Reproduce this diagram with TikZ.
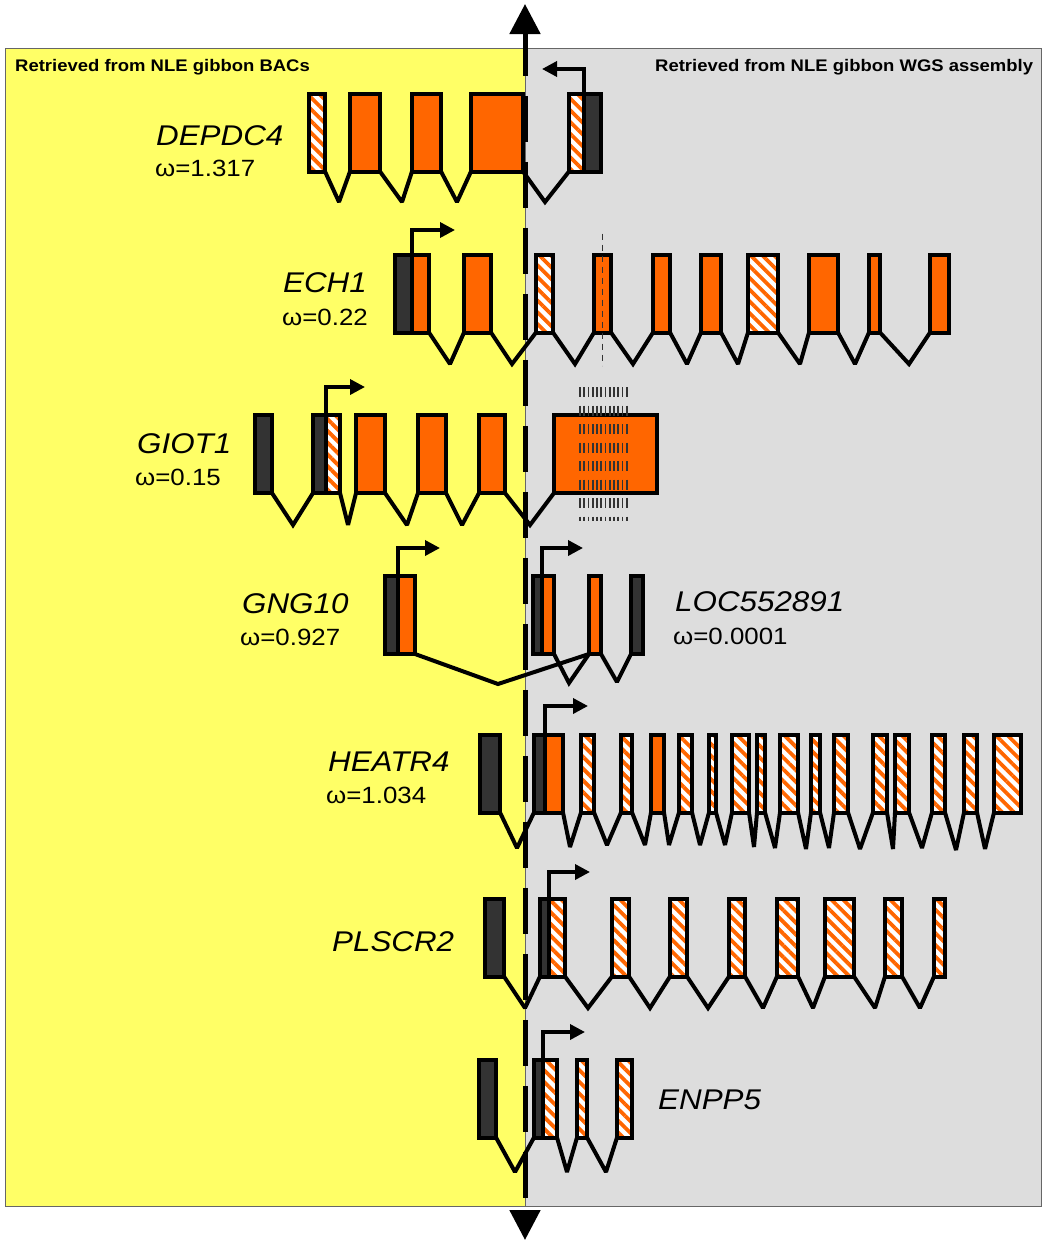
\documentclass[tikz,border=0pt]{standalone}
\usepackage{fontspec}
\setmainfont{Liberation Sans}[FakeStretch=1.1]
\usetikzlibrary{arrows.meta,patterns.meta}
\definecolor{bacyellow}{HTML}{FFFF66}
\definecolor{wgsgrey}{HTML}{DDDDDD}
\definecolor{exonorange}{HTML}{FF6600}
\definecolor{exondark}{HTML}{333333}
\tikzset{
  exon/.style={draw, line width=4pt, inner sep=0pt, outer sep=0pt, minimum height=78pt},
  orx/.style={exon, fill=exonorange},
  dkx/.style={exon, fill=exondark},
  hax/.style={exon, preaction={fill=white}, pattern={Lines[angle=-45,distance=8.3pt,line width=3.8pt]}, pattern color=exonorange},
  intron/.style={line width=4pt, miter limit=2},
  tss/.style={line width=3.5pt, -{Triangle[length=15pt,width=15pt]}},
  gene/.style={anchor=base west, inner sep=0pt, font=\fontsize{28.5}{30}\selectfont\itshape},
  omega/.style={anchor=base west, inner sep=0pt, font=\fontsize{23.5}{25}\selectfont},
  source/.style={anchor=base west, inner sep=0pt, font=\fontsize{16.8}{18}\selectfont\bfseries},
  frameline/.style={draw=black!60, line width=1pt},
  axis/.style={line width=5pt, dash pattern=on 46pt off 20pt, dash phase=3pt,
    {Triangle[length=30pt,width=30pt]}-{Triangle[length=30pt,width=30pt]}},
  cutline/.style={line width=1.5pt, exondark, dash pattern=on 6pt off 5pt},
  gridline/.style={line width=1.6pt, exondark, dash pattern=on 10pt off 8.5pt},
}
\begin{document}
\begin{tikzpicture}[x=1pt, y=-1pt]
  \useasboundingbox (0,0) rectangle (1045,1242);
  % the two sources
  \fill[bacyellow] (5,48) rectangle (525,1206);
  \fill[wgsgrey] (525,48) rectangle (1041,1206);
  \draw[frameline] (5,48) rectangle (1041,1206);
  \draw[frameline] (525,48) -- (525,1206);
  \node[source] (bacs) at (15,71) {Retrieved from NLE gibbon BACs};
  \node[source] (wgs) at (655,71) {Retrieved from NLE gibbon WGS assembly};

  % exons
  \foreach \n/\xl/\xr/\s in {dep1/309/325/hax, dep2/350/380/orx, dep3/412/441/orx, dep4/471/523/orx,
      dep5/569/584/hax, dep5d/584/601/dkx}
    \node[\s, minimum width=\xr pt-\xl pt] (\n) at ({(\xl+\xr)/2},132.5) {};
  \foreach \n/\xl/\xr/\s in {ech1d/395/412/dkx, ech1/412/429/orx, ech2/464/491/orx, ech3/536/553/hax,
      ech4/594/611/orx, ech5/653/670/orx, ech6/701/721/orx, ech7/748/778/hax, ech8/809/838/orx,
      ech9/869/880/orx, ech10/930/949/orx}
    \node[\s, minimum width=\xr pt-\xl pt] (\n) at ({(\xl+\xr)/2},293.5) {};
  \foreach \n/\xl/\xr/\s in {gio1/255/272/dkx, gio2d/313/326/dkx, gio2/326/340/hax, gio3/356/385/orx,
      gio4/418/446/orx, gio5/479/505/orx, gio6/554/657/orx}
    \node[\s, minimum width=\xr pt-\xl pt] (\n) at ({(\xl+\xr)/2},454) {};
  \foreach \n/\xl/\xr/\s in {gng1d/385/398/dkx, gng1/398/415/orx, loc1d/533/542/dkx, loc1/542/554/orx,
      loc2/589/601/orx, loc3/631/643/dkx}
    \node[\s, minimum width=\xr pt-\xl pt] (\n) at ({(\xl+\xr)/2},615) {};
  \foreach \n/\xl/\xr/\s in {hea1/480/500/dkx, hea2d/534/545/dkx, hea2/545/563/orx, hea3/581/594/hax,
      hea4/621/632/hax, hea5/651/664/orx, hea6/679/692/hax, hea7/709/716/hax, hea8/732/749/hax,
      hea9/757/765/hax, hea10/780/798/hax, hea11/811/820/hax, hea12/834/848/hax, hea13/873/887/hax,
      hea14/895/909/hax, hea15/932/945/hax, hea16/964/977/hax, hea17/994/1021/hax}
    \node[\s, minimum width=\xr pt-\xl pt] (\n) at ({(\xl+\xr)/2},773.5) {};
  \foreach \n/\xl/\xr/\s in {pls1/485/504/dkx, pls2d/540/549/dkx, pls2/549/565/hax, pls3/612/629/hax,
      pls4/670/687/hax, pls5/729/745/hax, pls6/777/798/hax, pls7/825/854/hax, pls8/885/902/hax,
      pls9/934/945/hax}
    \node[\s, minimum width=\xr pt-\xl pt] (\n) at ({(\xl+\xr)/2},937.5) {};
  \foreach \n/\xl/\xr/\s in {enp1/479/496/dkx, enp2d/534/543/dkx, enp2/543/557/hax, enp3/577/587/hax,
      enp4/617/632/hax}
    \node[\s, minimum width=\xr pt-\xl pt] (\n) at ({(\xl+\xr)/2},1098.5) {};

  % introns: exon / valley x / valley y / next exon
  \foreach \a/\v/\d/\c in {dep1/339/202/dep2, dep2/402/202/dep3, dep3/457/202/dep4, dep4/545/202/dep5,
      ech1/450/364/ech2, ech2/512/364/ech3, ech3/575/364/ech4, ech4/633/364/ech5, ech5/687/364/ech6,
      ech6/738/364/ech7, ech7/800/364/ech8, ech8/855/364/ech9, ech9/909/364/ech10,
      gio1/293/525/gio2d, gio2/348/525/gio3, gio3/407/525/gio4, gio4/462/525/gio5, gio5/530/525/gio6,
      gng1/498/684/loc2, loc1/569/683/loc2, loc2/617/682/loc3,
      hea1/517/848/hea2d, hea2/570/847/hea3, hea3/607/845/hea4, hea4/645/845/hea5, hea5/669/845/hea6,
      hea6/700/845/hea7, hea7/725/845/hea8, hea8/754/847/hea9, hea9/775/848/hea10, hea10/806/849/hea11,
      hea11/829/848/hea12, hea12/860/849/hea13, hea13/893/849/hea14, hea14/922/848/hea15,
      hea15/956/850/hea16, hea16/985/849/hea17,
      pls1/525/1008/pls2d, pls2/588/1008/pls3, pls3/650/1008/pls4, pls4/708/1008/pls5,
      pls5/763/1008/pls6, pls6/813/1008/pls7, pls7/875/1008/pls8, pls8/920/1008/pls9,
      enp1/515/1172/enp2d, enp2/567/1172/enp3, enp3/606/1172/enp4}
    \draw[intron] (\a.south east) -- (\v,\d) -- (\c.south west);

  % marks on ECH1 and GIOT1
  \draw[cutline] ([yshift=21pt]ech4.north) -- ([yshift=-33pt]ech4.south);
  \foreach \i in {0,...,11}
    \draw[gridline] ({580+4.25*\i},387) -- ({580+4.25*\i},521);

  % start sites
  \coordinate (deptip) at (542,69);
  \coordinate (echtip) at (455,230);
  \coordinate (giotip) at (365,387);
  \coordinate (gngtip) at (440,548);
  \coordinate (loctip) at (583,548);
  \coordinate (heatip) at (588,706);
  \coordinate (plstip) at (590,872);
  \coordinate (enptip) at (585,1032);
  \draw[tss] (dep5d.north west) |- (deptip);
  \draw[tss] (ech1.north west) |- (echtip);
  \draw[tss] (gio2.north west) |- (giotip);
  \draw[tss] (gng1.north west) |- (gngtip);
  \draw[tss] (loc1.north west) |- (loctip);
  \draw[tss] (hea2.north west) |- (heatip);
  \draw[tss] (pls2.north west) |- (plstip);
  \draw[tss] (enp2.north west) |- (enptip);

  % gene labels
  \node[gene] (depname) at (156,145) {DEPDC4};
  \node[omega] (depw) at (155,176) {ω=1.317};
  \node[gene] (echname) at (283,292) {ECH1};
  \node[omega] (echw) at (282,325) {ω=0.22};
  \node[gene] (gioname) at (137,453) {GIOT1};
  \node[omega] (giow) at (135,485) {ω=0.15};
  \node[gene] (gngname) at (242,613) {GNG10};
  \node[omega] (gngw) at (240,645) {ω=0.927};
  \node[gene] (locname) at (675,611) {LOC552891};
  \node[omega] (locw) at (673,644) {ω=0.0001};
  \node[gene] (heaname) at (328,771) {HEATR4};
  \node[omega] (heaw) at (326,803) {ω=1.034};
  \node[gene] (plsname) at (332,951) {PLSCR2};
  \node[gene] (enpname) at (658,1109) {ENPP5};

  % the break between the two sources
  \coordinate (axtop) at (525,4);
  \coordinate (axbot) at (525,1240);
  \draw[axis] (axtop) -- (axbot);
\end{tikzpicture}
\end{document}
